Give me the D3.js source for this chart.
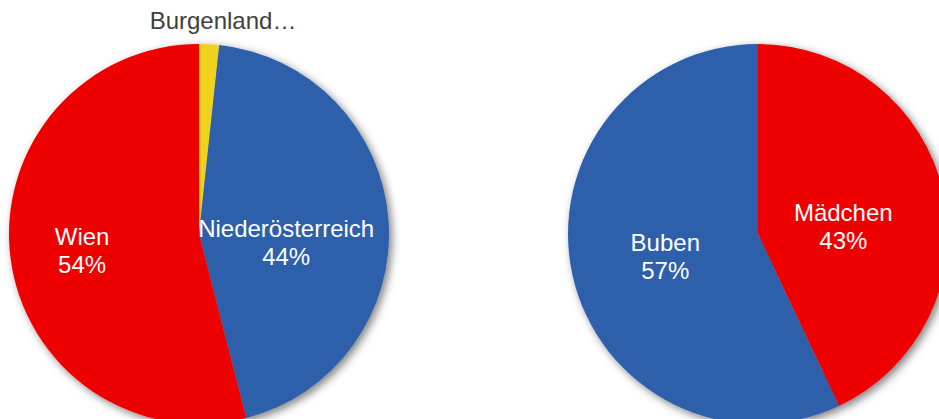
<!DOCTYPE html>
<html>
<head>
<meta charset="utf-8">
<script src="https://cdn.jsdelivr.net/npm/d3@7"></script>
<style>
  body { margin: 0; background: #fff; }
  svg { display: block; font-family: "Liberation Sans", Arial, sans-serif; }
</style>
</head>
<body>
<div id="chart"></div>
<script>
// data
const regionNames = ["Burgenland", "Niederösterreich", "Wien"];
const regionValues = [1.7, 44.3, 54];
const regionColors = ["#f0d21e", "#2e5eaa", "#ee0000"];

const genderNames = ["Mädchen", "Buben"];
const genderValues = [43, 57];
const genderColors = ["#ee0000", "#2e5eaa"];

const width = 939, height = 419;
const radius = 190;

const svg = d3.select("#chart")
  .append("svg")
  .attr("width", width)
  .attr("height", height);

// soft shadow round the pies
const defs = svg.append("defs");
const f = defs.append("filter")
  .attr("id", "shadow")
  .attr("x", "-20%").attr("y", "-20%")
  .attr("width", "140%").attr("height", "140%");
f.append("feDropShadow")
  .attr("dx", 3).attr("dy", 3)
  .attr("stdDeviation", 4)
  .attr("flood-color", "#000")
  .attr("flood-opacity", 0.5);

const pie = d3.pie().sort(null).value(d => d.value);
const arc = d3.arc().innerRadius(0).outerRadius(radius);

// label radius (as share of radius) and vertical nudge, per slice
const labelPos = {
  "Wien": [0.62, 0],
  "Niederösterreich": [0.46, 13],
  "Buben": [0.5, 0],
  "Mädchen": [0.46, 10]
};

function drawPie(cx, cy, names, values, colors) {
  const data = names.map((n, i) => ({ name: n, value: values[i], color: colors[i] }));
  const total = d3.sum(values);
  const g = svg.append("g").attr("transform", `translate(${cx},${cy})`);

  g.append("g")
    .attr("filter", "url(#shadow)")
    .selectAll("path")
    .data(pie(data))
    .join("path")
      .attr("d", arc)
      .attr("fill", d => d.data.color);

  const labels = g.selectAll("text.lbl")
    .data(pie(data).filter(d => labelPos[d.data.name]))
    .join("text")
      .attr("class", "lbl")
      .attr("text-anchor", "middle")
      .attr("fill", "#fff")
      .style("font-size", "24px")
      .attr("transform", d => {
        const p = labelPos[d.data.name];
        const r = radius * p[0];
        const a = (d.startAngle + d.endAngle) / 2;
        return `translate(${r * Math.sin(a)},${-r * Math.cos(a) + p[1]})`;
      });
  labels.append("tspan").attr("x", 0).attr("dy", "-0.15em").text(d => d.data.name);
  labels.append("tspan").attr("x", 0).attr("dy", "1.15em")
    .text(d => Math.round(d.data.value / total * 100) + "%");
  return g;
}

const left = drawPie(199, 234, regionNames, regionValues, regionColors);
drawPie(758, 234, genderNames, genderValues, genderColors);

// small slice label sits outside the pie
left.append("text")
  .attr("x", 24)
  .attr("y", 29 - 234)
  .attr("text-anchor", "middle")
  .attr("fill", "#404040")
  .style("font-size", "24px")
  .text(regionNames[0] + "…");
</script>
</body>
</html>
